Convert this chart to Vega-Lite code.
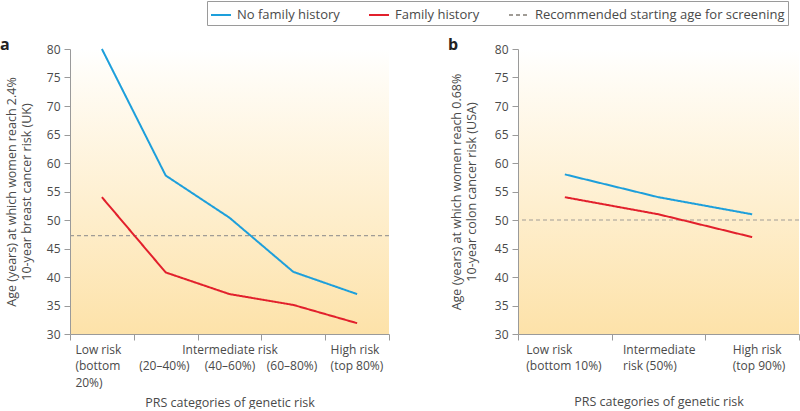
{
  "$schema": "https://vega.github.io/schema/vega-lite/v6.json",
  "padding": {"left": 0, "top": 0, "right": 0, "bottom": 0},
  "bounds": "flush",
  "spacing": 129,
  "datasets": {
    "breast": [
      {"category": "Low risk (bottom 20%)", "series": "No family history", "age": 80},
      {"category": "(20–40%)", "series": "No family history", "age": 57.8},
      {"category": "Intermediate risk (40–60%)", "series": "No family history", "age": 50.4},
      {"category": "(60–80%)", "series": "No family history", "age": 40.9},
      {"category": "High risk (top 80%)", "series": "No family history", "age": 37},
      {"category": "Low risk (bottom 20%)", "series": "Family history", "age": 54},
      {"category": "(20–40%)", "series": "Family history", "age": 40.8},
      {"category": "Intermediate risk (40–60%)", "series": "Family history", "age": 37},
      {"category": "(60–80%)", "series": "Family history", "age": 35.1},
      {"category": "High risk (top 80%)", "series": "Family history", "age": 31.9}
    ],
    "colon": [
      {"category": "Low risk (bottom 10%)", "series": "No family history", "age": 58},
      {"category": "Intermediate risk (50%)", "series": "No family history", "age": 54},
      {"category": "High risk (top 90%)", "series": "No family history", "age": 51},
      {"category": "Low risk (bottom 10%)", "series": "Family history", "age": 54},
      {"category": "Intermediate risk (50%)", "series": "Family history", "age": 51},
      {"category": "High risk (top 90%)", "series": "Family history", "age": 47}
    ],
    "screenA": [{"series": "Recommended starting age for screening", "age": 47.25}],
    "screenB": [{"series": "Recommended starting age for screening", "age": 50}]
  },
  "config": {
    "font": "Open Sans",
    "view": {
      "stroke": null,
      "fill": {"gradient": "linear", "x1": 0, "y1": 0, "x2": 0, "y2": 1,
        "stops": [{"offset": 0, "color": "#ffffff"}, {"offset": 0.1, "color": "#fffcf5"}, {"offset": 1, "color": "#fde2a9"}]}
    },
    "axis": {
      "domainColor": "#9a9a9a", "tickColor": "#9a9a9a", "tickSize": 6, "grid": false,
      "labelColor": "#4a4a4a", "titleColor": "#4a4a4a", "labelFontSize": 12, "titleFontSize": 12.5,
      "titleFontWeight": "normal"
    },
    "axisY": {"labelPadding": 4, "titleLineHeight": 15},
    "axisX": {"labelAngle": 0, "labelPadding": 4, "labelLineHeight": 16.5, "labelBaseline": "top", "tickBand": "extent"},
    "legend": {"labelFontSize": 13, "labelColor": "#4a4a4a", "labelLimit": 400},
    "title": {"fontSize": 16, "fontWeight": "bold", "color": "#222222", "anchor": "start", "frame": "group", "baseline": "alphabetic"}
  },
  "hconcat": [
    {
      "width": 319,
      "height": 285,
      "title": {"text": "a", "dx": -70, "offset": -10},
      "encoding": {
        "y": {"field": "age", "type": "quantitative",
          "scale": {"domain": [30, 80], "nice": false},
          "axis": {"values": [30, 35, 40, 45, 50, 55, 60, 65, 70, 75, 80], "titlePadding": 13,
            "title": ["Age (years) at which women reach 2.4%", "10-year breast cancer risk (UK)"]}
        },
        "color": {"field": "series", "type": "nominal",
          "scale": {"domain": ["No family history", "Family history", "Recommended starting age for screening"], "range": ["#1d9fdb", "#e2202c", "#a09c96"]},
          "legend": {"title": null, "orient": "none", "legendX": 137, "legendY": -48, "direction": "horizontal",
            "strokeColor": "#9a9a9a", "padding": 3, "symbolStrokeWidth": 2, "symbolSize": 400, "columnPadding": 25, "labelOffset": 5}
        },
        "strokeDash": {"field": "series", "type": "nominal",
          "scale": {"domain": ["No family history", "Family history", "Recommended starting age for screening"], "range": [[1, 0], [1, 0], [4, 3]]},
          "legend": {"title": null, "orient": "none", "legendX": 137, "legendY": -48, "direction": "horizontal",
            "strokeColor": "#9a9a9a", "padding": 3, "symbolStrokeWidth": 2, "symbolSize": 400, "columnPadding": 25, "labelOffset": 5}
        }
      },
      "layer": [
        {
          "data": {"name": "screenA"},
          "mark": {"type": "rule", "strokeWidth": 1.2}
        },
        {
          "data": {"name": "breast"},
          "mark": {"type": "line", "strokeWidth": 2},
          "encoding": {
            "x": {"field": "category", "type": "nominal", "sort": null,
              "scale": {"paddingInner": 0, "paddingOuter": 0},
              "axis": {
                "title": "PRS categories of genetic risk",
                "titlePadding": 8,
                "tickBand": "extent",
                "labelExpr": "datum.value == 'Low risk (bottom 20%)' ? ['Low risk', '(bottom', '20%)'] : datum.value == '(20–40%)' ? ['', '(20–40%)'] : datum.value == 'Intermediate risk (40–60%)' ? ['Intermediate risk', '(40–60%)'] : datum.value == '(60–80%)' ? ['', '(60–80%)'] : datum.value == 'High risk (top 80%)' ? ['High risk', '(top 80%)'] : ''",
                "labelAlign": {"condition": {"test": "datum.value == 'Intermediate risk (40–60%)'", "value": "center"}, "value": "left"},
                "labelOffset": {"condition": {"test": "datum.value == 'Intermediate risk (40–60%)'", "value": 0}, "value": -27}
              }
            }
          }
        }
      ]
    },
    {
      "width": 281,
      "height": 285,
      "title": {"text": "b", "dx": -70, "offset": -10},
      "encoding": {
        "y": {"field": "age", "type": "quantitative",
          "scale": {"domain": [30, 80], "nice": false},
          "axis": {"values": [30, 35, 40, 45, 50, 55, 60, 65, 70, 75, 80], "titlePadding": 16,
            "title": ["Age (years) at which women reach 0.68%", "10-year colon cancer risk (USA)"]}
        },
        "color": {"field": "series", "type": "nominal"},
        "strokeDash": {"field": "series", "type": "nominal"}
      },
      "layer": [
        {
          "data": {"name": "screenB"},
          "mark": {"type": "rule", "strokeWidth": 1.2}
        },
        {
          "data": {"name": "colon"},
          "mark": {"type": "line", "strokeWidth": 2},
          "encoding": {
            "x": {"field": "category", "type": "nominal", "sort": null,
              "scale": {"paddingInner": 0, "paddingOuter": 0},
              "axis": {
                "title": "PRS categories of genetic risk",
                "titlePadding": 24,
                "tickBand": "extent",
                "labelExpr": "datum.value == 'Low risk (bottom 10%)' ? ['Low risk', '(bottom 10%)'] : datum.value == 'Intermediate risk (50%)' ? ['Intermediate', 'risk (50%)'] : datum.value == 'High risk (top 90%)' ? ['High risk', '(top 90%)'] : ''",
                "labelAlign": "left",
                "labelOffset": {"condition": [{"test": "datum.value == 'Low risk (bottom 10%)'", "value": -39}, {"test": "datum.value == 'Intermediate risk (50%)'", "value": -36}], "value": -20}
              }
            }
          }
        }
      ]
    }
  ]
}
